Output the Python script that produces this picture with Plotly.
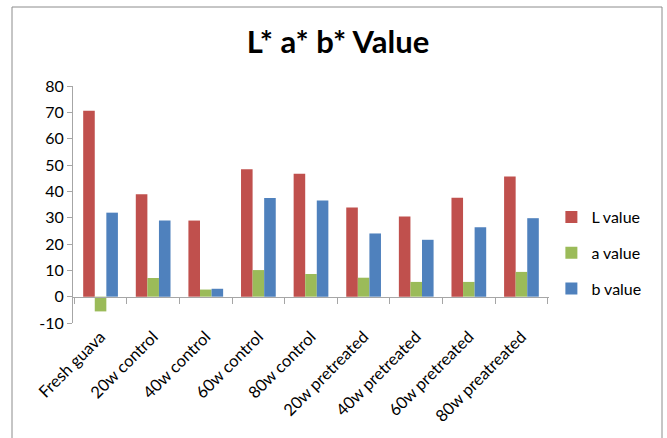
import plotly.graph_objects as go

categories = ["Fresh guava", "20w control", "40w control", "60w control", "80w control",
              "20w pretreated", "40w pretreated", "60w pretreated", "80w preatreated"]
L_value = [70.6, 38.9, 28.9, 48.4, 46.7, 33.9, 30.4, 37.6, 45.6]
a_value = [-5.6, 7.1, 2.7, 10.1, 8.6, 7.2, 5.6, 5.6, 9.4]
b_value = [31.9, 28.9, 3.0, 37.5, 36.5, 24.0, 21.6, 26.4, 29.8]
y_ticks = [-10, 0, 10, 20, 30, 40, 50, 60, 70, 80]
y_tick_text = ["-10", "0", "10", "20", "30", "40", "50", "60", "70", "80"]

W, H = 667, 438
PL, PR, PT, PB = 73, 549, 86, 323  # plot area in pixels
FONT = "Lato"
AX = "#A6A6A6"

fig = go.Figure()
series = [("L value", L_value, "#C0504D"), ("a value", a_value, "#9BBB59"), ("b value", b_value, "#4F81BD")]
for i, (name, vals, col) in enumerate(series):
    fig.add_trace(go.Bar(name=name, x=categories, y=vals, marker_color=col,
                         marker_line_width=0, legendgroup=str(i)))

# invisible helper trace for the axis drawn at y = 0
fig.add_trace(go.Scatter(x=categories, y=[0] * len(categories), xaxis="x2", mode="markers",
                         marker=dict(opacity=0), showlegend=False, hoverinfo="skip"))

ymin, ymax = -10, 80
fig.update_layout(
    width=W, height=H,
    margin=dict(l=PL, r=W - PR, t=PT, b=H - PB, pad=0, autoexpand=False),
    paper_bgcolor="white", plot_bgcolor="white",
    font=dict(family=FONT, size=15, color="#000000"),
    title=dict(text="<b>L* a* b* Value</b>", x=(338 - PL) / (PR - PL), xref="paper", xanchor="center",
               y=1 - 42 / H, yanchor="middle", font=dict(family=FONT, size=31, color="#000000")),
    barmode="group", bargap=0.34, bargroupgap=0,
    showlegend=True,
    legend=dict(x=1.005, xanchor="left", y=(PB - 200) / (PB - PT), yanchor="top",
                font=dict(family=FONT, size=16), tracegroupgap=12, traceorder="grouped",
                bgcolor="rgba(0,0,0,0)"),
    xaxis=dict(type="category", showline=False, ticks="", showgrid=False, tickangle=-45,
               tickfont=dict(family=FONT, size=16.5), automargin=False),
    xaxis2=dict(type="category", overlaying="x", matches="x", anchor="free",
                position=(0 - ymin) / (ymax - ymin), side="bottom",
                showline=True, linecolor=AX, linewidth=1, ticks="outside", tickson="boundaries",
                ticklen=6, tickcolor=AX, showticklabels=False, showgrid=False),
    yaxis=dict(range=[ymin, ymax], tickvals=y_ticks, ticktext=y_tick_text, showgrid=False,
               zeroline=False, showline=True, linecolor=AX, linewidth=1, ticks="outside",
               ticklen=5, tickcolor=AX, tickfont=dict(family=FONT, size=16), automargin=False),
    shapes=[dict(type="rect", xref="paper", yref="paper",
                 x0=(12 - PL) / (PR - PL), x1=(662 - PL) / (PR - PL),
                 y0=(PB - 460) / (PB - PT), y1=(PB - 7) / (PB - PT),
                 line=dict(color="#8C8C8C", width=1), fillcolor="rgba(0,0,0,0)", layer="below")],
)

fig.write_html("out.html", config={"displayModeBar": False},
               post_script="document.body.style.margin='0';document.body.style.overflow='hidden';")
